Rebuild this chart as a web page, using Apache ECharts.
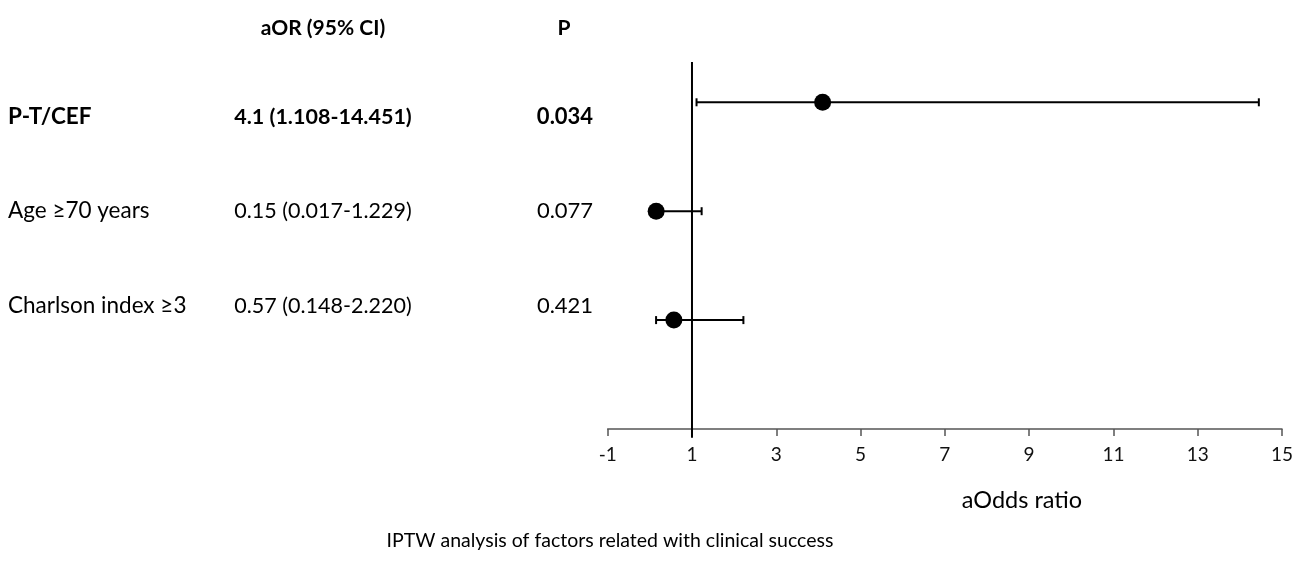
<!DOCTYPE html>
<html>
<head>
<meta charset="utf-8">
<title>IPTW forest plot</title>
<script src="https://cdn.jsdelivr.net/npm/echarts@6/dist/echarts.min.js"></script>
<style>
  html, body { margin: 0; padding: 0; background: #fff; }
  #main { width: 1296px; height: 581px; }
</style>
</head>
<body>
<div id="main"></div>
<script>
// data
var factors = ['P-T/CEF', 'Age \u226570 years', 'Charlson index \u22653']
var aOR = [4.1, 0.15, 0.57]
var ciLow = [1.108, 0.017, 0.148]
var ciHigh = [14.451, 1.229, 2.220]
var orText = ['4.1 (1.108-14.451)', '0.15 (0.017-1.229)', '0.57 (0.148-2.220)']
var pText = ['0.034', '0.077', '0.421']
var boldRow = [true, false, false]
var xTicks = [-1, 1, 3, 5, 7, 9, 11, 13, 15]

var FONT = 'Lato, "Open Sans", sans-serif'

var myChart = echarts.init(document.getElementById('main'))

// rows go top to bottom: y = 3, 2, 1
var n = factors.length
var pointData = []
var ciData = []
for (var i = 0; i < n; i++) {
  pointData.push([aOR[i], n - i])
  ciData.push([ciLow[i], ciHigh[i], n - i])
}

function txt(x, y, s, font, align) {
  return {
    type: 'text', x: x, y: y,
    style: { text: s, font: font + ' ' + FONT, fill: '#000', textAlign: align || 'left', textVerticalAlign: 'middle' }
  }
}

// table text on the left
var textRowY = [117, 211, 306]
var graphics = [
  txt(323, 28, 'aOR (95% CI)', 'bold 21px', 'center'),
  txt(564, 28, 'P', 'bold 21px', 'center'),
  txt(1022, 500, 'aOdds ratio', '23.5px', 'center'),
  txt(610, 541, 'IPTW analysis of factors related with clinical success', '19.5px', 'center')
]
for (var j = 0; j < n; j++) {
  var w = boldRow[j] ? 'bold ' : ''
  graphics.push(txt(8, textRowY[j], factors[j], w + '22.5px'))
  graphics.push(txt(323, textRowY[j], orText[j], w + '21.5px', 'center'))
  graphics.push(txt(565, textRowY[j], pText[j], w + '22px', 'center'))
}

var option = {
  animation: false,
  backgroundColor: '#fff',
  grid: { left: 607.7, right: 11, top: 62, bottom: 152 },
  xAxis: {
    type: 'value',
    min: -1,
    max: 15,
    interval: 2,
    splitLine: { show: false },
    axisLine: { onZero: false, lineStyle: { color: '#555', width: 1.5 } },
    axisTick: { show: true, length: 7, lineStyle: { color: '#555', width: 1.5 } },
    axisLabel: {
      fontSize: 19, color: '#111', fontFamily: FONT, margin: 16,
      formatter: function (v) { return xTicks.indexOf(v) >= 0 ? String(v) : '' }
    }
  },
  yAxis: {
    type: 'value',
    min: 0,
    max: 3.37,
    show: false
  },
  graphic: graphics,
  series: [
    {
      // reference line at OR = 1
      type: 'line',
      data: [[1, -0.08], [1, 3.37]],
      symbol: 'none',
      clip: false,
      lineStyle: { color: '#000', width: 2 },
      z: 1
    },
    {
      type: 'custom',
      data: ciData,
      clip: false,
      renderItem: function (params, api) {
        var y = api.value(2)
        var a = api.coord([api.value(0), y])
        var b = api.coord([api.value(1), y])
        var cap = 4
        var st = { stroke: '#000', lineWidth: 2 }
        return {
          type: 'group',
          children: [
            { type: 'line', shape: { x1: a[0], y1: a[1], x2: b[0], y2: b[1] }, style: st },
            { type: 'line', shape: { x1: a[0], y1: a[1] - cap, x2: a[0], y2: a[1] + cap }, style: st },
            { type: 'line', shape: { x1: b[0], y1: b[1] - cap, x2: b[0], y2: b[1] + cap }, style: st }
          ]
        }
      },
      z: 2
    },
    {
      type: 'scatter',
      data: pointData,
      symbolSize: 17,
      itemStyle: { color: '#000', opacity: 1 },
      z: 3
    }
  ]
}

myChart.setOption(option, true)
window.onresize = () => {
  myChart.resize()
}
</script>
</body>
</html>
